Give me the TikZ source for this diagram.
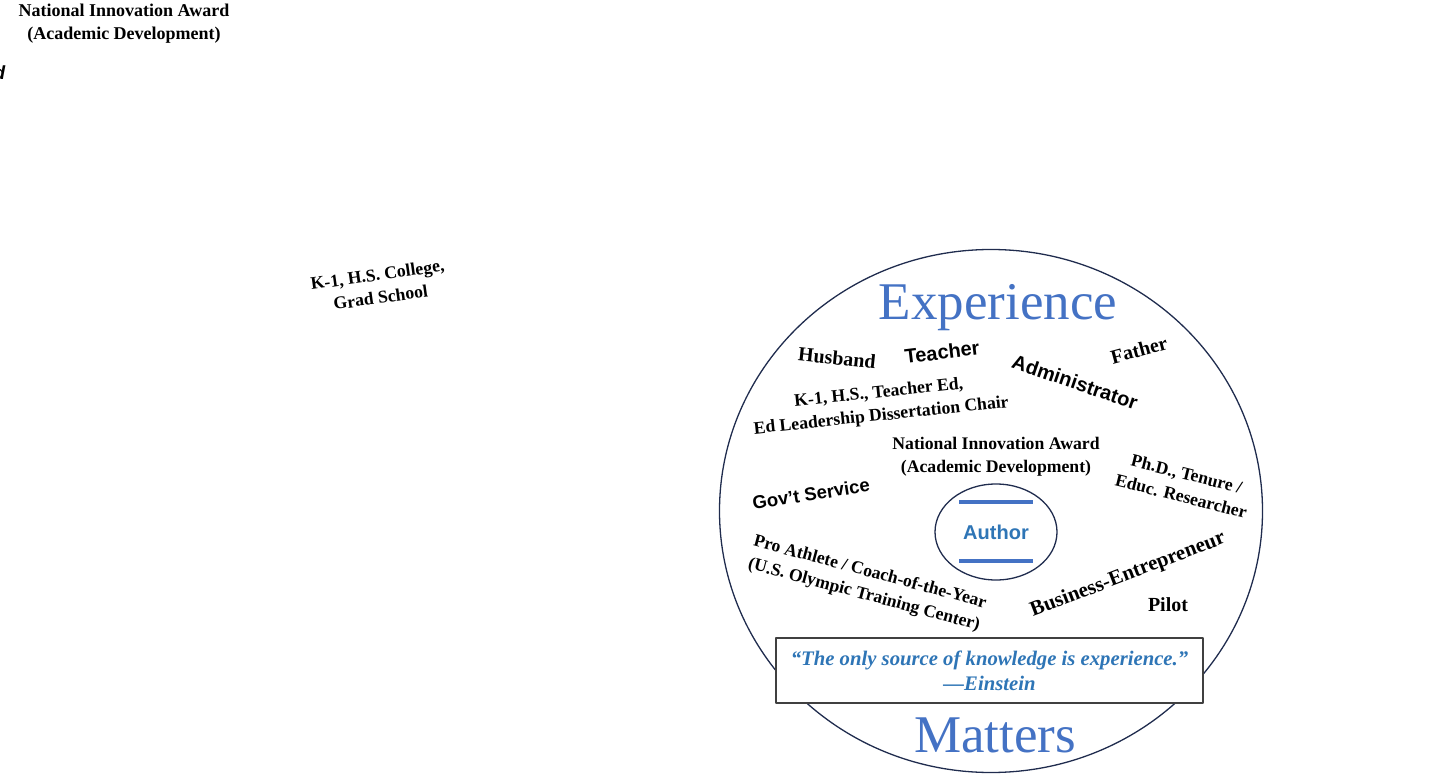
\documentclass[tikz,border=0pt]{standalone}
\usepackage{fontspec}
\setmainfont{Liberation Serif}
\setsansfont{Liberation Sans}
\usetikzlibrary{shapes.geometric}
\definecolor{expblue}{RGB}{68,114,196}
\definecolor{quoteblue}{RGB}{46,117,182}
\definecolor{rimnavy}{RGB}{32,44,78}
\tikzset{
  lbl/.style={font=\bfseries\fontsize{17.7}{23}\selectfont, align=center, inner sep=0pt},
  biglbl/.style={font=\bfseries\fontsize{20}{23}\selectfont, inner sep=0pt},
  slbl/.style={font=\sffamily\bfseries\fontsize{20}{23}\selectfont, inner sep=0pt},
  title/.style={font=\fontsize{53}{60}\selectfont, text=expblue, anchor=base, inner sep=0pt},
  bar/.style={draw=expblue, line width=3.5pt},
}
\begin{document}
\begin{tikzpicture}[x=1pt, y=-1pt, line width=1.3pt, line join=round]
  \useasboundingbox (0,0) rectangle (1440,775);
  % loose labels, top left
  \node[lbl, font=\bfseries\fontsize{18}{23}\selectfont] (awardtop) at (124,24) {National Innovation Award\\(Academic Development)};
  \node[slbl, font=\sffamily\bfseries\itshape\fontsize{19}{23}\selectfont, anchor=east] (cutoff) at (6,73) {d};
  \node[lbl, rotate=8] (schools) at (379,286) {K-1, H.S. College,\\Grad School};
  % the big circle and its two title words
  \node[draw=rimnavy, ellipse, minimum width=543, minimum height=523] (world) at (991,511) {};
  \node[title] (experience) at (998,320) {Experience};
  \node[title] (matters) at (995,752) {Matters};
  % roles round the rim
  \node[biglbl, rotate=-6] (husband) at (837,358) {Husband};
  \node[slbl, rotate=7] (teacher) at (942,352) {Teacher};
  \node[slbl, rotate=-19] (admin) at (1075,382) {Administrator};
  \node[biglbl, rotate=15] (father) at (1139,350) {Father};
  \node[lbl, rotate=6] (teaching) at (880,405) {K-1, H.S., Teacher Ed,\\Ed Leadership Dissertation Chair};
  \node[lbl] (award) at (996,457) {National Innovation Award\\(Academic Development)};
  \node[lbl, rotate=-14] (phd) at (1184,485) {Ph.D., Tenure /\\Educ. Researcher};
  \node[slbl, font=\sffamily\bfseries\fontsize{18.5}{23}\selectfont, rotate=9] (govt) at (811,494) {Gov’t Service};
  \node[lbl, rotate=-15] (athlete) at (867,584) {Pro Athlete / Coach-of-the-Year\\(U.S. Olympic Training Center)};
  \node[biglbl, font=\bfseries\fontsize{21}{23}\selectfont, rotate=21] (business) at (1128,575) {Business-Entrepreneur};
  \node[biglbl] (pilot) at (1168,605) {Pilot};
  % the author in the middle
  \node[draw=rimnavy, ellipse, minimum width=122, minimum height=96, text=quoteblue,
        font=\sffamily\bfseries\fontsize{20}{23}\selectfont] (author) at (996,532) {Author};
  \draw[bar] ([shift={(-37,-30)}]author.center) -- ++(74,0);
  \draw[bar] ([shift={(-37,29)}]author.center) -- ++(74,0);
  % the quote
  \node[draw=black!75, fill=white, line width=1.2pt, minimum width=427, minimum height=65, align=center,
        text=quoteblue, font=\bfseries\itshape\fontsize{20.7}{25}\selectfont] (quote) at (989.5,670.5)
        {“The only source of knowledge is experience.”\\—Einstein};
\end{tikzpicture}
\end{document}
